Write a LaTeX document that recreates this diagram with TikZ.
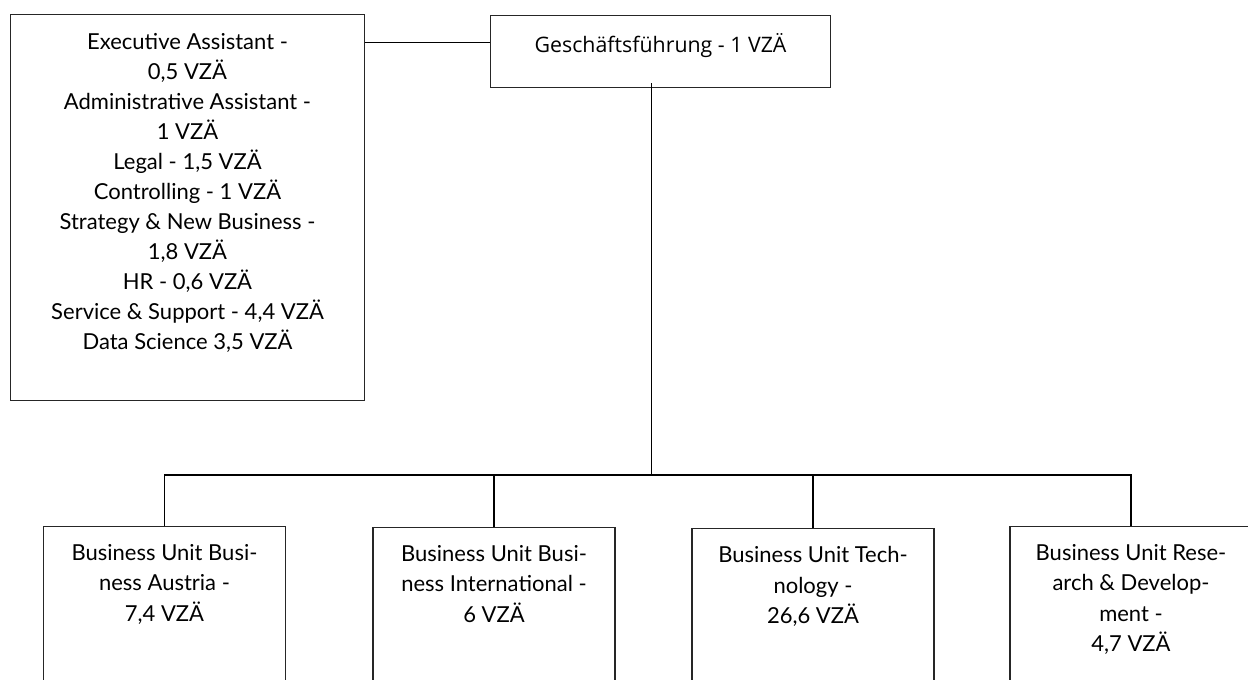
\documentclass[tikz,border=0pt]{standalone}
\usepackage{fontspec}
\setmainfont{Lato}
\newfontfamily\gffont{Open Sans}
\newfontfamily\bufont{Lato}
\newcommand*{\vgap}[1]{\rule[-#1]{0pt}{0pt}}

\begin{document}
\begin{tikzpicture}[x=0.75pt, y=-0.75pt,
      box/.style={draw=black!85, line width=0.8pt, align=center},
      unit/.style={box, anchor=north, minimum width=181.5pt, inner ysep=13.5pt,
        font=\bufont\fontsize{16.5}{22.8}\selectfont},
      link/.style={line width=1.1pt}]
      \useasboundingbox (0,0) rectangle (1248,680);
      \node[box, anchor=north west, minimum width=255pt, minimum height=54pt,
        font=\gffont\fontsize{16}{20}\selectfont] (gf) at (490,15)
        {Geschäftsführung - 1 VZÄ\vgap{13pt}};
      \node[box, anchor=north west, minimum width=265.5pt, inner ysep=14.5pt,
        font=\fontsize{16.5}{22.5}\selectfont] (staff) at (10,14)
        {Executive Assistant -\\0,5 VZÄ\\Administrative Assistant -\\1 VZÄ\\
         Legal - 1,5 VZÄ\\Controlling - 1 VZÄ\\Strategy \& New Business -\\
         1,8 VZÄ\\HR - 0,6 VZÄ\\Service \& Support - 4,4 VZÄ\\
         Data Science 3,5 VZÄ\vgap{23.5pt}};
      \node[unit] (bu1) at (164.5,526) {Business Unit Busi-\\ness Austria -\\7,4 VZÄ\vgap{60pt}};
      \node[unit] (bu2) at (494,527) {Business Unit Busi-\\ness International -\\6 VZÄ\vgap{60pt}};
      \node[unit] (bu3) at (813,528) {Business Unit Tech-\\nology -\\26,6 VZÄ\vgap{60pt}};
      \node[unit] (bu4) at (1131,526) {Business Unit Rese-\\arch \& Develop-\\ment -\\4,7 VZÄ\vgap{60pt}};
      % stem of the managing box and the bus to the units
      \coordinate (stem) at ([xshift=-6.75pt, yshift=3.75pt]gf.south);
      \coordinate (bus) at (651,475);
      \draw[link] ([yshift=6.75pt]gf.west) -- ([yshift=6.75pt]gf.west -| staff.east);
      \draw[link] (stem) -- (stem |- bus);
      \draw[link] (bu1.north) -- (bu1.north |- bus) -- (bu4.north |- bus) -- (bu4.north);
      \draw[link] (bu2.north) -- (bu2.north |- bus);
      \draw[link] (bu3.north) -- (bu3.north |- bus);
    \end{tikzpicture}
\end{document}
